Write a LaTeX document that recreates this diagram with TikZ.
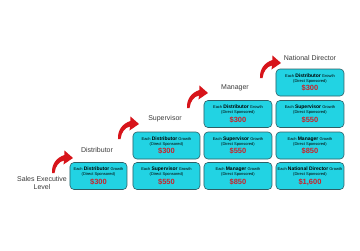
\documentclass[tikz,border=0pt]{standalone}
\usepackage{fontspec}
\setmainfont{Liberation Sans}
\definecolor{boxcyan}{HTML}{22D3E3}
\definecolor{boxedge}{HTML}{2E5F66}
\definecolor{moneyred}{HTML}{C8232B}
\definecolor{arrowred}{HTML}{D7141A}
\definecolor{labelgray}{HTML}{3A3A3A}
\newcommand{\bxtext}[2]{{\fontsize{4}{5}\selectfont Each {\fontsize{5}{5}\selectfont\bfseries #1} Growth}\\[0.2pt]{\fontsize{4}{5}\selectfont (Direct Sponsored)}\\[1pt]{\fontsize{7.5}{7.5}\selectfont\bfseries\color{moneyred}#2}}
\tikzset{
  growbox/.style={rectangle, rounded corners=4pt, fill=boxcyan, draw=boxedge, line width=0.6pt,
    minimum height=27pt, inner sep=0pt, align=center, text=black, font=\fontsize{4}{5}\selectfont},
  lvl/.style={text=labelgray, font=\fontsize{7}{8.5}\selectfont, align=center, inner sep=0pt},
  uparrow/.pic={\fill[arrowred] (0,0) .. controls (-0.5,9) and (4.5,15.5) .. (12.5,18) -- (12.5,22.5) -- (21,15) -- (11.5,8.5) -- (12,12.5) .. controls (7,11.5) and (3.5,7) .. (2.5,0) -- cycle;}
}
\begin{document}
\begin{tikzpicture}[x=1pt,y=1pt]
\useasboundingbox (0,0) rectangle (360,-250);
% column 1
\node[growbox, minimum width=57pt] (d1) at (98.5,-176) {\bxtext{Distributor}{\$300}};
% column 2
\node[growbox, minimum width=67pt] (s1) at (166.5,-145.5) {\bxtext{Distributor}{\$300}};
\node[growbox, minimum width=67pt] (s2) at (166.5,-176) {\bxtext{Supervisor}{\$550}};
% column 3
\node[growbox, minimum width=68pt] (m1) at (238,-114) {\bxtext{Distributor}{\$300}};
\node[growbox, minimum width=68pt] (m2) at (238,-145.5) {\bxtext{Supervisor}{\$550}};
\node[growbox, minimum width=68pt] (m3) at (238,-176) {\bxtext{Manager}{\$850}};
% column 4
\node[growbox, minimum width=68pt] (n1) at (310,-82.5) {\bxtext{Distributor}{\$300}};
\node[growbox, minimum width=68pt] (n2) at (310,-114) {\bxtext{Supervisor}{\$550}};
\node[growbox, minimum width=68pt] (n3) at (310,-145.5) {\bxtext{Manager}{\$850}};
\node[growbox, minimum width=68pt] (n4) at (310,-176) {\bxtext{National Director}{\$1,600}};
% level labels
\node[lvl] (lse) at (42,-183) {Sales Executive\\Level};
\node[lvl] (ldi) at (97,-150) {Distributor};
\node[lvl] (lsu) at (165,-119) {Supervisor};
\node[lvl] (lma) at (235,-88) {Manager};
\node[lvl] (lnd) at (310,-58) {National Director};
% arrows
\pic at (52,-173) {uparrow};
\pic at (118,-139) {uparrow};
\pic at (187,-108) {uparrow};
\pic at (260,-78) {uparrow};
\end{tikzpicture}
\end{document}
